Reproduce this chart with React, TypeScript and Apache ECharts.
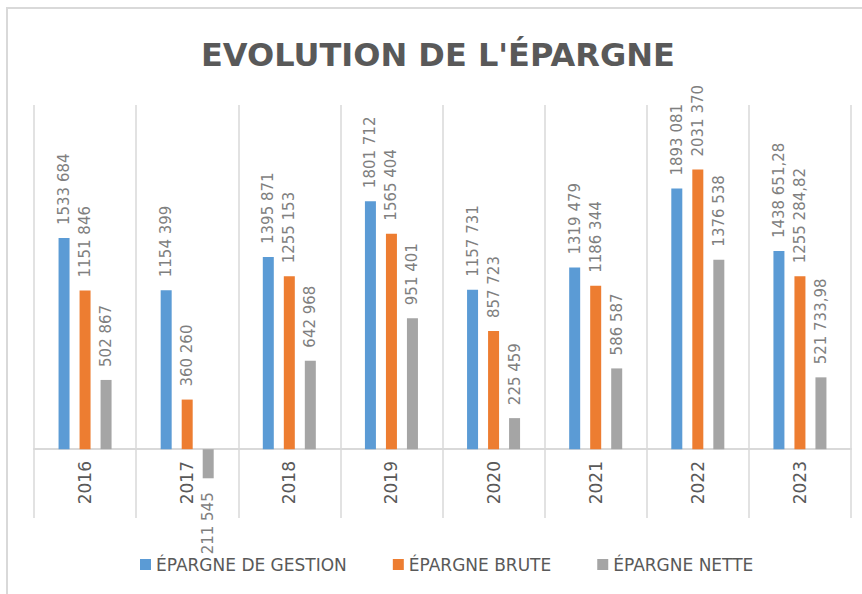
import React, { useEffect, useRef } from "react";
import * as echarts from "echarts";

const categories = ["2016", "2017", "2018", "2019", "2020", "2021", "2022", "2023"];
const gestion = [1533684, 1154399, 1395871, 1801712, 1157731, 1319479, 1893081, 1438651.28];
const brute = [1151846, 360260, 1255153, 1565404, 857723, 1186344, 2031370, 1255284.82];
const nette = [502867, -211545, 642968, 951401, 225459, 586587, 1376538, 521733.98];
const seriesNames = ["ÉPARGNE DE GESTION", "ÉPARGNE BRUTE", "ÉPARGNE NETTE"];
const colors = ["#5B9BD5", "#ED7D31", "#A5A5A5"];
const yMin = -500000;
const yMax = 2500000;

function fmt(v: number): string {
  const a = Math.abs(v);
  const intPart = Math.floor(a);
  const dec = Math.round((a - intPart) * 100);
  const s = String(intPart);
  let out = s.length > 3 ? s.slice(0, s.length - 3) + " " + s.slice(s.length - 3) : s;
  if (dec > 0) out += "," + String(dec).padStart(2, "0");
  return out;
}

const labelFont = "DejaVu Sans";

function makeData(values: number[]) {
  return values.map((v) =>
    v < 0
      ? {
          value: v,
          label: { position: "bottom", align: "right", verticalAlign: "middle", distance: 14 },
        }
      : { value: v }
  );
}

export default function App() {
  const ref = useRef<HTMLDivElement>(null);
  useEffect(() => {
    if (!ref.current) return;
    const chart = echarts.init(ref.current, undefined, { renderer: "svg" });
    const gridTop = 105;
    const gridBottom = 76;
    const gridH = 594 - gridTop - gridBottom;
    const zeroOffset = Math.round((gridH * (0 - yMin)) / (yMax - yMin));
    const mk = (name: string, values: number[], color: string) => ({
      name,
      type: "bar",
      barWidth: 11,
      barGap: "91%",
      itemStyle: { color },
      data: makeData(values),
      label: {
        show: true,
        position: "top",
        rotate: 90,
        align: "left",
        verticalAlign: "middle",
        distance: 13,
        color: "#7f7f7f",
        fontFamily: labelFont,
        fontSize: 15,
        formatter: (p: any) => fmt(p.value),
      },
    });
    chart.setOption({
      animation: false,
      backgroundColor: "#ffffff",
      title: {
        text: "EVOLUTION DE L'ÉPARGNE",
        left: 196,
        top: 34,
        textStyle: {
          fontFamily: "DejaVu Sans",
          fontWeight: "bold",
          fontSize: 32,
          color: "#595959",
        },
      },
      graphic: [
        {
          type: "rect",
          shape: { x: 7, y: 8, width: 900, height: 700 },
          style: { fill: "none", stroke: "#d9d9d9", lineWidth: 2 },
          silent: true,
        },
      ],
      legend: {
        bottom: 16,
        left: 135,
        icon: "rect",
        itemWidth: 11,
        itemHeight: 11,
        itemGap: 46,
        textStyle: { fontFamily: labelFont, fontSize: 17, color: "#595959" },
        data: seriesNames,
      },
      grid: { left: 34, right: 11, top: gridTop, bottom: gridBottom, containLabel: false },
      xAxis: {
        type: "category",
        data: categories,
        offset: -zeroOffset,
        axisLine: { show: true, onZero: false, lineStyle: { color: "#d9d9d9", width: 2 } },
        axisTick: { show: false },
        splitLine: { show: true, lineStyle: { color: "#d9d9d9", width: 1.5 } },
        axisLabel: {
          rotate: 90,
          margin: 12,
          color: "#595959",
          fontFamily: labelFont,
          fontSize: 17,
        },
      },
      yAxis: {
        type: "value",
        min: yMin,
        max: yMax,
        show: false,
        splitLine: { show: false },
      },
      series: [
        mk(seriesNames[0], gestion, colors[0]),
        mk(seriesNames[1], brute, colors[1]),
        mk(seriesNames[2], nette, colors[2]),
      ],
    });
    return () => chart.dispose();
  }, []);
  return (
    <div
      ref={ref}
      style={{ position: "fixed", left: 0, top: 0, width: 862, height: 594 }}
    />
  );
}
